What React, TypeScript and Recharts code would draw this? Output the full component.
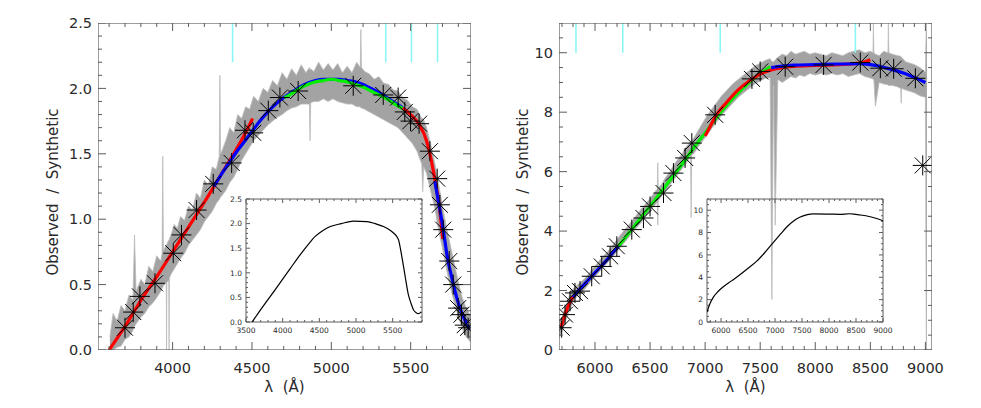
import React from 'react';
import { ComposedChart, Area, Line, Scatter, XAxis, YAxis, ReferenceLine, Label } from 'recharts';

// ---------- left panel: observed / synthetic, blue arm ----------
const leftObsX = [3605, 3625, 3650, 3675, 3700, 3725, 3750, 3760, 3770, 3800, 3825, 3850, 3875, 3900, 3925, 3934, 3938, 3942, 3950, 3960, 3962, 3964, 3976, 3978, 3980, 3990, 4010, 4030, 4050, 4075, 4100, 4125, 4150, 4175, 4200, 4225, 4250, 4275, 4294, 4298, 4302, 4310, 4335, 4360, 4385, 4410, 4435, 4460, 4485, 4510, 4540, 4570, 4600, 4630, 4660, 4690, 4720, 4750, 4780, 4810, 4840, 4862, 4866, 4870, 4890, 4920, 4950, 4980, 5010, 5040, 5070, 5100, 5130, 5160, 5182, 5186, 5190, 5210, 5240, 5270, 5300, 5330, 5360, 5390, 5420, 5450, 5480, 5510, 5540, 5570, 5576, 5582, 5600, 5625, 5650, 5675, 5700, 5725, 5750, 5775, 5800, 5825, 5850, 5878];
const leftObsLo = [0.00, 0.00, 0.02, 0.03, 0.08, 0.10, 0.15, 0.18, 0.20, 0.25, 0.28, 0.33, 0.36, 0.40, 0.45, 0.47, 0.48, 0.49, 0.50, 0.51, 0.00, 0.52, 0.53, 0.00, 0.55, 0.58, 0.62, 0.66, 0.70, 0.74, 0.80, 0.84, 0.88, 0.92, 0.98, 1.02, 1.06, 1.12, 1.15, 1.16, 1.17, 1.18, 1.22, 1.28, 1.32, 1.38, 1.45, 1.50, 1.55, 1.60, 1.64, 1.68, 1.72, 1.75, 1.78, 1.80, 1.83, 1.85, 1.86, 1.88, 1.88, 1.88, 1.60, 1.89, 1.90, 1.90, 1.92, 1.90, 1.92, 1.90, 1.89, 1.88, 1.88, 1.86, 1.86, 1.85, 1.85, 1.84, 1.82, 1.80, 1.78, 1.76, 1.74, 1.72, 1.70, 1.66, 1.62, 1.58, 1.52, 1.42, 1.21, 1.40, 1.35, 1.22, 1.10, 0.92, 0.78, 0.62, 0.48, 0.36, 0.26, 0.16, 0.10, 0.06];
const leftObsHi = [0.10, 0.28, 0.22, 0.34, 0.30, 0.42, 0.38, 0.88, 0.45, 0.54, 0.50, 0.64, 0.60, 0.72, 0.68, 0.74, 1.48, 0.76, 0.78, 0.80, 0.80, 0.81, 0.84, 0.84, 0.85, 0.88, 0.96, 0.93, 1.02, 0.99, 1.10, 1.07, 1.20, 1.16, 1.30, 1.26, 1.40, 1.38, 1.48, 2.10, 1.50, 1.52, 1.60, 1.70, 1.66, 1.80, 1.77, 1.86, 1.84, 1.94, 1.90, 2.00, 1.97, 2.06, 2.02, 2.12, 2.07, 2.15, 2.10, 2.18, 2.12, 2.16, 2.14, 2.15, 2.13, 2.20, 2.14, 2.19, 2.14, 2.19, 2.12, 2.17, 2.12, 2.20, 2.16, 2.45, 2.16, 2.13, 2.11, 2.07, 2.09, 2.04, 2.03, 1.99, 1.98, 1.93, 1.91, 1.86, 1.84, 1.77, 1.77, 1.76, 1.70, 1.58, 1.44, 1.28, 1.10, 0.94, 0.80, 0.66, 0.52, 0.40, 0.32, 0.26];

const leftRed1X = [3600, 3700, 3800, 3900, 4000, 4100, 4200, 4300, 4400, 4450, 4504];
const leftRed1Y = [0.0, 0.18, 0.38, 0.56, 0.75, 0.94, 1.13, 1.33, 1.53, 1.64, 1.77];
const leftBlue1X = [4260, 4300, 4350, 4400, 4450, 4500, 4550, 4600, 4650, 4700, 4750, 4800, 4850, 4900, 4950, 5000, 5050, 5100, 5150, 5200, 5250, 5300, 5350, 5400, 5450, 5470];
const leftBlue1Y = [1.25, 1.33, 1.42, 1.51, 1.59, 1.67, 1.75, 1.82, 1.88, 1.93, 1.97, 2.01, 2.04, 2.06, 2.07, 2.07, 2.07, 2.06, 2.05, 2.03, 2.00, 1.97, 1.93, 1.89, 1.85, 1.83];
const leftGreenX = [4705, 4750, 4800, 4850, 4900, 4950, 5000, 5050, 5100, 5150, 5200, 5250, 5300, 5350, 5400, 5460];
const leftGreenY = [1.93, 1.96, 2.00, 2.03, 2.05, 2.06, 2.07, 2.06, 2.05, 2.03, 2.01, 1.98, 1.95, 1.92, 1.88, 1.84];
const leftRed2X = [5450, 5500, 5550, 5600, 5630, 5650, 5680, 5702];
const leftRed2Y = [1.85, 1.80, 1.73, 1.60, 1.45, 1.32, 1.10, 0.85];
const leftBlue2X = [5652, 5680, 5700, 5734, 5760, 5790, 5820, 5845, 5870];
const leftBlue2Y = [1.29, 1.10, 0.96, 0.69, 0.55, 0.40, 0.29, 0.22, 0.16];

const leftStarX = [3700, 3752, 3794, 3889, 4004, 4056, 4151, 4256, 4372, 4456, 4508, 4603, 4676, 4791, 5138, 5327, 5421, 5463, 5499, 5553, 5621, 5667, 5684, 5705, 5743, 5768, 5799, 5820, 5841, 5862];
const leftStarY = [0.17, 0.29, 0.41, 0.51, 0.74, 0.88, 1.07, 1.27, 1.43, 1.68, 1.66, 1.83, 1.93, 1.98, 2.02, 1.95, 1.93, 1.82, 1.75, 1.73, 1.52, 1.31, 1.11, 0.92, 0.68, 0.50, 0.32, 0.27, 0.19, 0.17];

const leftCyanX = [4378, 5343, 5505, 5669];
const leftCyanRange = [2.2, 2.5];

const leftInsetX = [3582, 3700, 3899, 4100, 4240, 4350, 4444, 4550, 4649, 4800, 4966, 5149, 5300, 5375, 5450, 5511, 5550, 5580, 5625, 5670, 5715, 5750, 5783, 5820, 5851, 5888];
const leftInsetY = [0.00, 0.25, 0.66, 1.08, 1.37, 1.58, 1.74, 1.86, 1.94, 2.00, 2.05, 2.04, 1.98, 1.94, 1.88, 1.81, 1.75, 1.67, 1.33, 0.93, 0.55, 0.38, 0.25, 0.19, 0.17, 0.20];

// ---------- right panel: red arm ----------
const rightObsX = [5675, 5700, 5725, 5750, 5775, 5800, 5830, 5860, 5900, 5940, 5980, 6020, 6060, 6100, 6140, 6180, 6220, 6260, 6300, 6340, 6380, 6420, 6460, 6500, 6540, 6566, 6570, 6574, 6600, 6640, 6680, 6720, 6760, 6800, 6840, 6868, 6873, 6878, 6900, 6940, 6980, 7020, 7060, 7100, 7150, 7200, 7250, 7300, 7350, 7400, 7450, 7500, 7550, 7590, 7606, 7620, 7636, 7660, 7700, 7740, 7780, 7820, 7860, 7900, 7950, 8000, 8050, 8100, 8150, 8200, 8250, 8300, 8350, 8400, 8450, 8500, 8524, 8528, 8532, 8546, 8580, 8620, 8660, 8664, 8668, 8700, 8750, 8776, 8780, 8784, 8820, 8860, 8900, 8950, 9000, 9008, 9014];
const rightObsLo = [0.40, 0.60, 0.90, 1.15, 1.40, 1.60, 1.78, 1.88, 2.02, 2.20, 2.38, 2.55, 2.72, 2.88, 3.05, 3.22, 3.40, 3.58, 3.76, 3.95, 4.12, 4.30, 4.50, 4.68, 4.86, 4.98, 4.20, 5.02, 5.15, 5.35, 5.55, 5.75, 5.95, 6.15, 6.35, 6.50, 4.45, 6.54, 6.62, 6.85, 7.05, 7.25, 7.45, 7.65, 7.90, 8.10, 8.30, 8.50, 8.65, 8.80, 8.95, 9.05, 9.15, 9.15, 1.70, 8.90, 4.20, 9.10, 9.00, 9.10, 9.20, 9.15, 9.25, 9.20, 9.30, 9.25, 9.30, 9.25, 9.30, 9.25, 9.30, 9.20, 9.25, 9.30, 9.20, 9.15, 9.12, 9.10, 9.10, 8.20, 9.00, 8.95, 8.92, 8.90, 8.90, 8.90, 8.85, 8.80, 8.30, 8.80, 8.75, 8.70, 8.65, 8.55, 8.50, 0.00, 0.00];
const rightObsHi = [1.00, 1.10, 1.40, 1.65, 1.90, 2.05, 2.15, 2.25, 2.38, 2.55, 2.75, 2.92, 3.10, 3.25, 3.42, 3.62, 3.82, 4.00, 4.18, 4.36, 4.56, 4.74, 4.92, 5.10, 5.30, 5.42, 6.30, 5.46, 5.55, 5.80, 6.00, 6.25, 6.45, 6.65, 6.90, 7.00, 7.00, 7.05, 7.15, 7.40, 7.65, 7.90, 8.10, 8.30, 8.55, 8.75, 8.95, 9.10, 9.25, 9.40, 9.55, 9.65, 9.75, 9.80, 9.70, 9.70, 9.75, 9.85, 9.95, 9.90, 10.05, 9.95, 10.00, 10.05, 9.95, 10.00, 9.95, 9.90, 10.00, 9.95, 9.90, 10.00, 10.05, 10.10, 10.00, 10.05, 10.00, 11.00, 10.00, 9.95, 9.90, 10.05, 10.00, 11.00, 10.00, 9.95, 9.90, 9.88, 9.85, 9.85, 9.70, 9.65, 9.60, 9.50, 9.35, 11.00, 11.00];

const rightRed1X = [5690, 5720, 5750, 5780, 5805];
const rightRed1Y = [0.75, 1.10, 1.42, 1.66, 1.82];
const rightBlue1X = [5800, 5850, 5900, 5950, 6000, 6050, 6100, 6150, 6212];
const rightBlue1Y = [1.78, 2.00, 2.20, 2.40, 2.60, 2.80, 3.00, 3.22, 3.49];
const rightGreenX = [6212, 6300, 6400, 6500, 6600, 6700, 6800, 6900, 7000, 7100, 7200, 7300, 7400, 7500, 7591];
const rightGreenY = [3.49, 3.90, 4.37, 4.84, 5.32, 5.80, 6.30, 6.82, 7.30, 7.80, 8.25, 8.65, 9.00, 9.30, 9.53];
const rightRed2X = [7000, 7050, 7100, 7200, 7300, 7400, 7500, 7600, 7700, 7800, 8000, 8200, 8400, 8500];
const rightRed2Y = [7.20, 7.55, 7.90, 8.35, 8.75, 9.05, 9.28, 9.42, 9.50, 9.54, 9.57, 9.60, 9.65, 9.76];
const rightBlue2X = [7600, 7700, 7800, 8000, 8200, 8400, 8500, 8600, 8700, 8800, 8900, 9000];
const rightBlue2Y = [9.50, 9.55, 9.58, 9.60, 9.62, 9.63, 9.60, 9.53, 9.43, 9.32, 9.17, 9.00];

const rightStarX = [5697, 5728, 5773, 5818, 5864, 5970, 6061, 6137, 6198, 6334, 6440, 6500, 6622, 6712, 6818, 6879, 7091, 7425, 7500, 7727, 8076, 8409, 8591, 8712, 8909, 8976];
const rightStarY = [0.75, 1.19, 1.64, 1.92, 1.98, 2.48, 2.81, 3.15, 3.49, 4.05, 4.44, 4.83, 5.28, 5.95, 6.46, 6.96, 7.91, 9.12, 9.37, 9.53, 9.59, 9.67, 9.48, 9.46, 9.14, 6.21];

const rightCyanX = [5827, 6252, 7137, 8364];
const rightCyanRange = [10, 11];

const rightInsetX = [5740, 5800, 5864, 5950, 6048, 6200, 6355, 6500, 6661, 6800, 6967, 7100, 7212, 7350, 7457, 7600, 7702, 8008, 8200, 8376, 8500, 8682, 8850, 9000];
const rightInsetY = [0.90, 1.70, 2.27, 2.75, 3.17, 3.70, 4.24, 4.80, 5.44, 6.15, 7.10, 7.85, 8.47, 9.05, 9.37, 9.60, 9.67, 9.65, 9.63, 9.68, 9.62, 9.50, 9.30, 9.05];

// ---------- axes ----------
const leftXMajor = [4000, 4500, 5000, 5500];
const leftYMajor = [0, 0.5, 1.0, 1.5, 2.0, 2.5];
const rightXMajor = [6000, 6500, 7000, 7500, 8000, 8500, 9000];
const rightYMajor = [0, 2, 4, 6, 8, 10];
const leftInsetXMajor = [3500, 4000, 4500, 5000, 5500];
const rightInsetXMajor = [6000, 6500, 7000, 7500, 8000, 8500, 9000];

const INK = '#2a2a2a';
const FRAME = '#5c5c5c';
const CYAN = '#8cf6f6';
const FONT = '"DejaVu Sans", sans-serif';

const steps = (from: number, to: number, step: number) => {
  const out: number[] = [];
  for (let v = from; v <= to + 1e-9; v += step) out.push(Math.round(v * 1000) / 1000);
  return out;
};

const toRows = (xs: number[], ys: number[]) => xs.map((x, i) => ({ x, y: ys[i] }));
const toBand = (xs: number[], lo: number[], hi: number[]) => xs.map((x, i) => ({ x, band: [lo[i], hi[i]] }));
const isMajor = (majors: number[], v: number) => majors.some((m) => Math.abs(m - v) < 1e-6);

// tick labels only; tick marks and the frame are drawn separately
function TickLabel(props: any) {
  const { x, y, payload, side, majors, fontSize, gap, fmt } = props;
  const v = payload.value;
  if (!isMajor(majors, v)) return <g />;
  if (side === 'bottom') {
    return <text x={x} y={y + gap} textAnchor="middle" fontSize={fontSize} fontFamily={FONT} fill={INK}>{fmt(v)}</text>;
  }
  return <text x={x - gap} y={y + fontSize * 0.36} textAnchor="end" fontSize={fontSize} fontFamily={FONT} fill={INK}>{fmt(v)}</text>;
}

interface PanelSpec {
  width: number;
  height: number;
  margin: { top: number; right: number; bottom: number; left: number };
  yAxisWidth: number;
  xAxisHeight: number;
  xDomain: [number, number];
  yDomain: [number, number];
  xMajor: number[];
  xTicks: number[];
  yMajor: number[];
  yTicks: number[];
  yFmt: (v: number) => string;
  tickLong: number;
  tickShort: number;
  fontSize: number;
  xGap: number;
  yGap: number;
  titles?: { xCenter: number; xBase: number; yCenter: number; yMid: number };
}

const plotSize = (s: PanelSpec) => ({
  w: s.width - s.margin.left - s.margin.right - s.yAxisWidth,
  h: s.height - s.margin.top - s.margin.bottom - s.xAxisHeight,
});

// frame + inward ticks as reference segments (insets)
function frameSegments(s: PanelSpec) {
  const [x0, x1] = s.xDomain;
  const [y0, y1] = s.yDomain;
  const { w, h } = plotSize(s);
  const perX = (x1 - x0) / w;
  const perY = (y1 - y0) / h;
  const out: React.ReactNode[] = [];
  const seg = (key: string, a: { x: number; y: number }, b: { x: number; y: number }) =>
    out.push(<ReferenceLine key={key} segment={[a, b]} stroke={FRAME} strokeWidth={1} />);
  s.xTicks.forEach((v) => {
    const len = (isMajor(s.xMajor, v) ? s.tickLong : s.tickShort) * perY;
    seg(`xb${v}`, { x: v, y: y0 }, { x: v, y: y0 + len });
    seg(`xt${v}`, { x: v, y: y1 }, { x: v, y: y1 - len });
  });
  s.yTicks.forEach((v) => {
    const len = (isMajor(s.yMajor, v) ? s.tickLong : s.tickShort) * perX;
    seg(`yl${v}`, { x: x0, y: v }, { x: x0 + len, y: v });
    seg(`yr${v}`, { x: x1, y: v }, { x: x1 - len, y: v });
  });
  seg('fb', { x: x0, y: y0 }, { x: x1, y: y0 });
  seg('ft', { x: x0, y: y1 }, { x: x1, y: y1 });
  seg('fl', { x: x0, y: y0 }, { x: x0, y: y1 });
  seg('fr', { x: x1, y: y0 }, { x: x1, y: y1 });
  return out;
}

// frame + inward ticks as scatter marks placed by the axis scales (main panels)
function frameMarks(s: PanelSpec) {
  const [x0, x1] = s.xDomain;
  const [y0, y1] = s.yDomain;
  const { w, h } = plotSize(s);
  const xMaj = s.xTicks.filter((v) => isMajor(s.xMajor, v));
  const xMin = s.xTicks.filter((v) => !isMajor(s.xMajor, v));
  const yMaj = s.yTicks.filter((v) => isMajor(s.yMajor, v));
  const yMin = s.yTicks.filter((v) => !isMajor(s.yMajor, v));
  const mark = (dx: number, dy: number) => (p: any) =>
    p.cx == null ? <g /> : <line x1={p.cx} y1={p.cy} x2={p.cx + dx} y2={p.cy + dy} stroke={FRAME} strokeWidth={1} />;
  const box = (p: any) =>
    p.cx == null ? <g /> : <rect x={p.cx} y={p.cy - h} width={w} height={h} fill="none" stroke={FRAME} strokeWidth={1.2} />;
  const sc = (key: string, rows: { x: number; y: number }[], shape: any) => (
    <Scatter key={key} data={rows} dataKey="y" shape={shape} isAnimationActive={false} />
  );
  const L = s.tickLong;
  const S = s.tickShort;
  return [
    sc('box', [{ x: x0, y: y0 }], box),
    sc('bM', xMaj.map((x) => ({ x, y: y0 })), mark(0, -L)),
    sc('bm', xMin.map((x) => ({ x, y: y0 })), mark(0, -S)),
    sc('tM', xMaj.map((x) => ({ x, y: y1 })), mark(0, L)),
    sc('tm', xMin.map((x) => ({ x, y: y1 })), mark(0, S)),
    sc('lM', yMaj.map((y) => ({ x: x0, y })), mark(L, 0)),
    sc('lm', yMin.map((y) => ({ x: x0, y })), mark(S, 0)),
    sc('rM', yMaj.map((y) => ({ x: x1, y })), mark(-L, 0)),
    sc('rm', yMin.map((y) => ({ x: x1, y })), mark(-S, 0)),
  ];
}

function Panel({ spec, data, segments = false, children }: { spec: PanelSpec; data: any[]; segments?: boolean; children?: React.ReactNode }) {
  const s = spec;
  const label = (side: string) => (tp: any) => (
    <TickLabel
      {...tp}
      side={side}
      majors={side === 'bottom' ? s.xMajor : s.yMajor}
      fontSize={s.fontSize}
      gap={side === 'bottom' ? s.xGap : s.yGap}
      fmt={side === 'left' ? s.yFmt : (v: number) => String(v)}
    />
  );
  const t = s.titles;
  return (
    <ComposedChart width={s.width} height={s.height} data={data} margin={s.margin}>
      <XAxis
        dataKey="x" type="number" domain={s.xDomain} allowDataOverflow ticks={s.xTicks} interval={0}
        height={s.xAxisHeight} axisLine={false} tickLine={false} tickSize={0} tickMargin={0}
        tick={label('bottom')}
      >
        {t && (
          <Label
            content={() => (
              <text x={t.xCenter} y={t.xBase} textAnchor="middle" fontSize={15} fontFamily={FONT} fill={INK} xmlSpace="preserve" style={{ whiteSpace: 'pre' }}>
                {'λ  (Å)'}
              </text>
            )}
          />
        )}
      </XAxis>
      <YAxis
        type="number" domain={s.yDomain} allowDataOverflow ticks={s.yTicks} interval={0} width={s.yAxisWidth}
        axisLine={false} tickLine={false} tickSize={0} tickMargin={0} tick={label('left')}
      >
        {t && (
          <Label
            content={() => (
              <text
                x={t.yCenter} y={t.yMid} textAnchor="middle" dominantBaseline="central" fontSize={15} fontFamily={FONT} fill={INK}
                transform={`rotate(-90, ${t.yCenter}, ${t.yMid})`} xmlSpace="preserve" style={{ whiteSpace: 'pre' }}
              >
                {'Observed  /  Synthetic'}
              </text>
            )}
          />
        )}
      </YAxis>
      {segments && frameSegments(s)}
      {children}
      {!segments && frameMarks(s)}
    </ComposedChart>
  );
}

function Asterisk(props: any) {
  const { cx, cy } = props;
  if (cx == null || cy == null) return null;
  const r = 10;
  const d = 8;
  return (
    <g stroke="#000" strokeWidth={1}>
      <line x1={cx - r} y1={cy} x2={cx + r} y2={cy} />
      <line x1={cx} y1={cy - r} x2={cx} y2={cy + r} />
      <line x1={cx - d} y1={cy - d} x2={cx + d} y2={cy + d} />
      <line x1={cx - d} y1={cy + d} x2={cx + d} y2={cy - d} />
    </g>
  );
}

const fit = (key: string, xs: number[], ys: number[], color: string) => (
  <Line key={key} data={toRows(xs, ys)} dataKey="y" type="monotone" stroke={color} strokeWidth={3.2} dot={false} isAnimationActive={false} />
);

const band = (key: string) => (
  <Area key={key} dataKey="band" type="linear" stroke="#bcbcbc" strokeWidth={0.8} fill="#8c8c8c" fillOpacity={0.8} isAnimationActive={false} />
);

const stars = (key: string, xs: number[], ys: number[]) => (
  <Scatter key={key} data={toRows(xs, ys)} dataKey="y" shape={(p: any) => <Asterisk cx={p.cx} cy={p.cy} />} isAnimationActive={false} />
);

const cyan = (xs: number[], range: number[]) =>
  xs.map((x) => (
    <ReferenceLine key={`c${x}`} segment={[{ x, y: range[0] }, { x, y: range[1] }]} stroke={CYAN} strokeWidth={1.6} />
  ));

const leftSpec: PanelSpec = {
  width: 490, height: 408, margin: { top: 23, right: 19, bottom: 0, left: 0 }, yAxisWidth: 98, xAxisHeight: 58,
  xDomain: [3530, 5880], yDomain: [0, 2.5], xMajor: leftXMajor, xTicks: steps(3600, 5800, 100),
  yMajor: leftYMajor, yTicks: steps(0, 2.5, 0.1), yFmt: (v) => v.toFixed(1),
  tickLong: 8, tickShort: 4, fontSize: 14.5, xGap: 23, yGap: 6,
  titles: { xCenter: 284.5, xBase: 392, yCenter: 53, yMid: 192 },
};

const rightSpec: PanelSpec = {
  width: 491, height: 408, margin: { top: 23, right: 49, bottom: 0, left: 0 }, yAxisWidth: 69, xAxisHeight: 58,
  xDomain: [5673, 9060], yDomain: [0, 11], xMajor: rightXMajor, xTicks: steps(5700, 9000, 100),
  yMajor: rightYMajor, yTicks: steps(0, 11, 0.5), yFmt: (v) => String(v),
  tickLong: 8, tickShort: 4, fontSize: 14.5, xGap: 23, yGap: 6,
  titles: { xCenter: 255.5, xBase: 392, yCenter: 33, yMid: 192 },
};

const leftInsetSpec: PanelSpec = {
  width: 230, height: 150, margin: { top: 10, right: 13, bottom: 0, left: 0 }, yAxisWidth: 41, xAxisHeight: 17,
  xDomain: [3500, 5900], yDomain: [0, 2.5], xMajor: leftInsetXMajor, xTicks: steps(3500, 5900, 100),
  yMajor: leftYMajor, yTicks: steps(0, 2.5, 0.1), yFmt: (v) => v.toFixed(1),
  tickLong: 4, tickShort: 2, fontSize: 7.5, xGap: 10.5, yGap: 4,
};

const rightInsetSpec: PanelSpec = {
  width: 230, height: 150, margin: { top: 10, right: 13, bottom: 0, left: 0 }, yAxisWidth: 41, xAxisHeight: 17,
  xDomain: [5740, 9000], yDomain: [0, 11], xMajor: rightInsetXMajor, xTicks: steps(5800, 9000, 100),
  yMajor: rightYMajor, yTicks: steps(0, 11, 0.5), yFmt: (v) => String(v),
  tickLong: 4, tickShort: 2, fontSize: 7.5, xGap: 10.5, yGap: 4,
};

export default function App() {
  const abs = (left: number, top: number): React.CSSProperties => ({ position: 'absolute', left, top });
  return (
    <div style={{ position: 'absolute', left: 0, top: 0, width: 981, height: 408, background: '#fff', fontFamily: FONT }}>
      <div style={abs(0, 0)}>
        <Panel spec={leftSpec} data={toBand(leftObsX, leftObsLo, leftObsHi)}>
          {band('obs')}
          {fit('r1', leftRed1X, leftRed1Y, '#ff0000')}
          {fit('b1', leftBlue1X, leftBlue1Y, '#0000ff')}
          {fit('g1', leftGreenX, leftGreenY, '#00ee00')}
          {fit('r2', leftRed2X, leftRed2Y, '#ff0000')}
          {fit('b2', leftBlue2X, leftBlue2Y, '#0000ff')}
          {stars('st', leftStarX, leftStarY)}
          {cyan(leftCyanX, leftCyanRange)}
        </Panel>
      </div>
      <div style={abs(490, 0)}>
        <Panel spec={rightSpec} data={toBand(rightObsX, rightObsLo, rightObsHi)}>
          {band('obs')}
          {fit('r1', rightRed1X, rightRed1Y, '#ff0000')}
          {fit('b1', rightBlue1X, rightBlue1Y, '#0000ff')}
          {fit('g1', rightGreenX, rightGreenY, '#00ee00')}
          {fit('r2', rightRed2X, rightRed2Y, '#ff0000')}
          {fit('b2', rightBlue2X, rightBlue2Y, '#0000ff')}
          {stars('st', rightStarX, rightStarY)}
          {cyan(rightCyanX, rightCyanRange)}
        </Panel>
      </div>
      <div style={abs(205, 189)}>
        <Panel spec={leftInsetSpec} data={toRows(leftInsetX, leftInsetY)} segments>
          <Line dataKey="y" type="monotone" stroke="#000" strokeWidth={1.2} dot={false} isAnimationActive={false} />
        </Panel>
      </div>
      <div style={abs(666, 189)}>
        <Panel spec={rightInsetSpec} data={toRows(rightInsetX, rightInsetY)} segments>
          <Line dataKey="y" type="monotone" stroke="#000" strokeWidth={1.2} dot={false} isAnimationActive={false} />
        </Panel>
      </div>
    </div>
  );
}
